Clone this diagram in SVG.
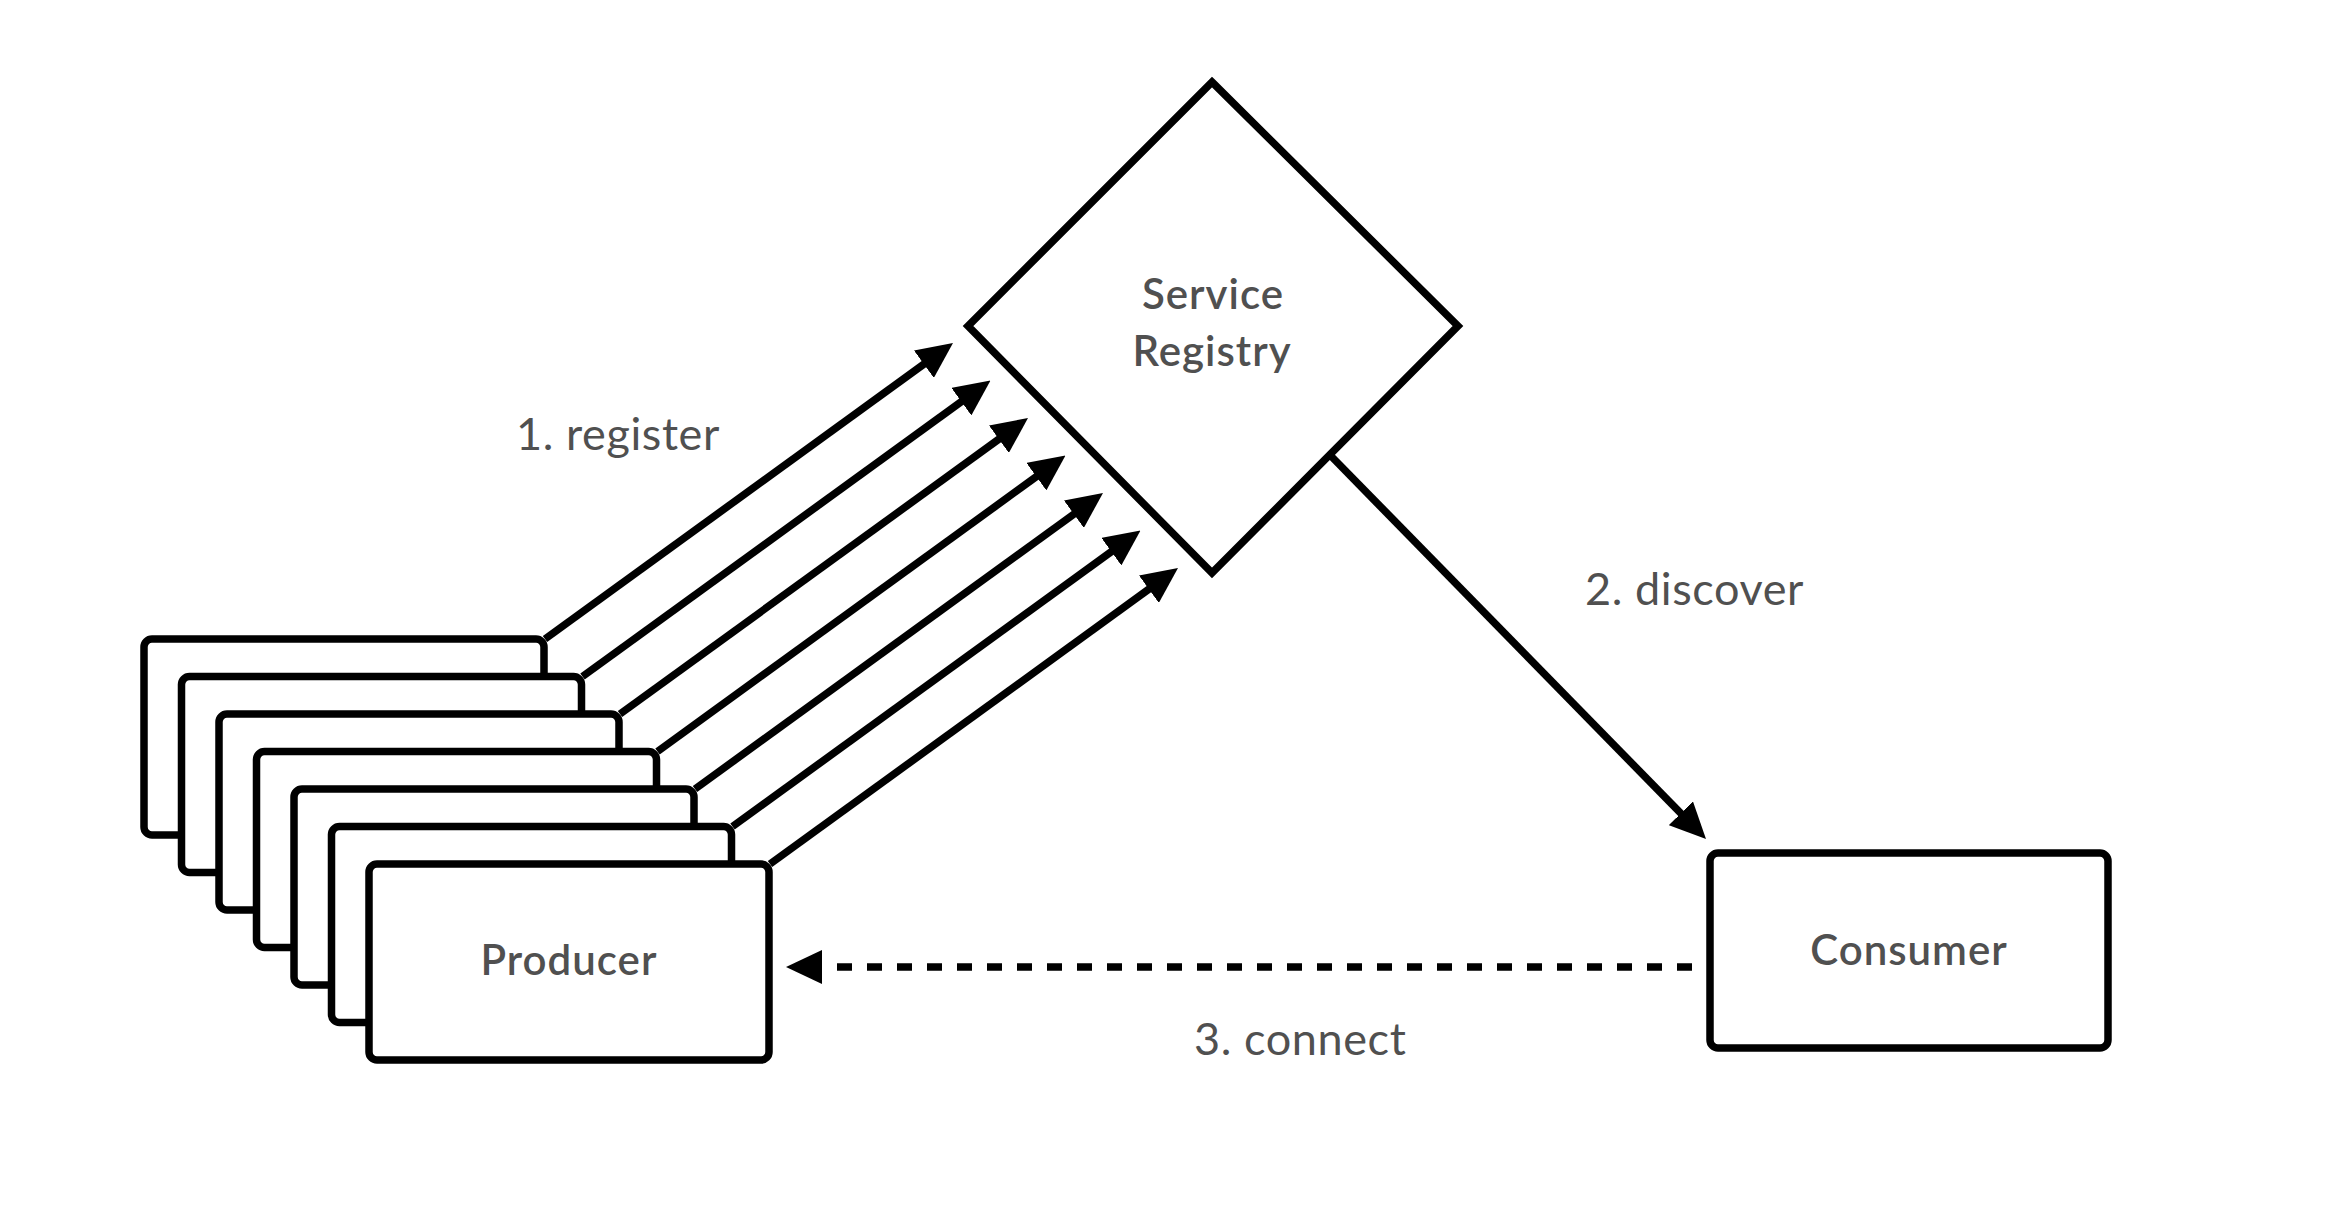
<svg xmlns="http://www.w3.org/2000/svg" width="2348" height="1208" viewBox="0 0 2348 1208">
<style>
.box{fill:#fff;stroke:#000;stroke-width:7.5}
.lbl{font-family:Lato,"Open Sans","Liberation Sans",sans-serif;font-size:42px;font-weight:600;fill:#505050;text-anchor:middle;letter-spacing:1px}
.edge{font-family:Lato,"Open Sans","Liberation Sans",sans-serif;font-size:45px;fill:#505050;letter-spacing:0.6px}
.ln{fill:none;stroke:#000;stroke-width:7.5}
.dash{stroke-dasharray:15 15}
</style>
<defs>
<marker id="ah" viewBox="0 0 36 34" refX="26" refY="17" markerWidth="36" markerHeight="34" markerUnits="userSpaceOnUse" orient="auto">
<path d="M0,0 L36,17 L0,34 Z" fill="#000"/>
</marker>
</defs>
<rect width="2348" height="1208" fill="#fff"/>
<g id="producer-stack">
<g id="producer-1"><rect class="box" x="144" y="639" width="400" height="196" rx="8"/></g>
<g id="producer-2"><rect class="box" x="181.5" y="676.5" width="400" height="196" rx="8"/></g>
<g id="producer-3"><rect class="box" x="219" y="714" width="400" height="196" rx="8"/></g>
<g id="producer-4"><rect class="box" x="256.5" y="751.5" width="400" height="196" rx="8"/></g>
<g id="producer-5"><rect class="box" x="294" y="789" width="400" height="196" rx="8"/></g>
<g id="producer-6"><rect class="box" x="331.5" y="826.5" width="400" height="196" rx="8"/></g>
<g id="producer"><rect class="box" x="369" y="864" width="400" height="196" rx="8"/>
<text class="lbl" x="569" y="975">Producer</text></g>
</g>
<g id="service-registry">
<path class="box" d="M1212,82 L1458,326 L1212,573 L968,326 Z" stroke-linejoin="miter"/>
<text class="lbl" x="1213" y="309">Service</text>
<text class="lbl" x="1212" y="366">Registry</text>
</g>
<g id="consumer">
<rect class="box" x="1710" y="853" width="398" height="195" rx="8"/>
<text class="lbl" x="1909" y="965">Consumer</text>
</g>
<g id="connectors">
<line class="ln" x1="545" y1="639" x2="944.9" y2="348.9" marker-end="url(#ah)"/>
<line class="ln" x1="582.5" y1="676.5" x2="982.4" y2="386.4" marker-end="url(#ah)"/>
<line class="ln" x1="620" y1="714" x2="1019.9" y2="423.9" marker-end="url(#ah)"/>
<line class="ln" x1="657.5" y1="751.5" x2="1057.4" y2="461.4" marker-end="url(#ah)"/>
<line class="ln" x1="695" y1="789" x2="1094.9" y2="498.9" marker-end="url(#ah)"/>
<line class="ln" x1="732.5" y1="826.5" x2="1132.4" y2="536.4" marker-end="url(#ah)"/>
<line class="ln" x1="770" y1="864" x2="1169.9" y2="573.9" marker-end="url(#ah)"/>
<line class="ln" x1="1330" y1="455" x2="1699" y2="831.9" marker-end="url(#ah)"/>
<line class="ln dash" x1="1692" y1="967" x2="796" y2="967" marker-end="url(#ah)"/>
<text class="edge" x="516" y="450">1. register</text>
<text class="edge" x="1585" y="605">2. discover</text>
<text class="edge" x="1194" y="1055">3. connect</text>
</g>
</svg>
